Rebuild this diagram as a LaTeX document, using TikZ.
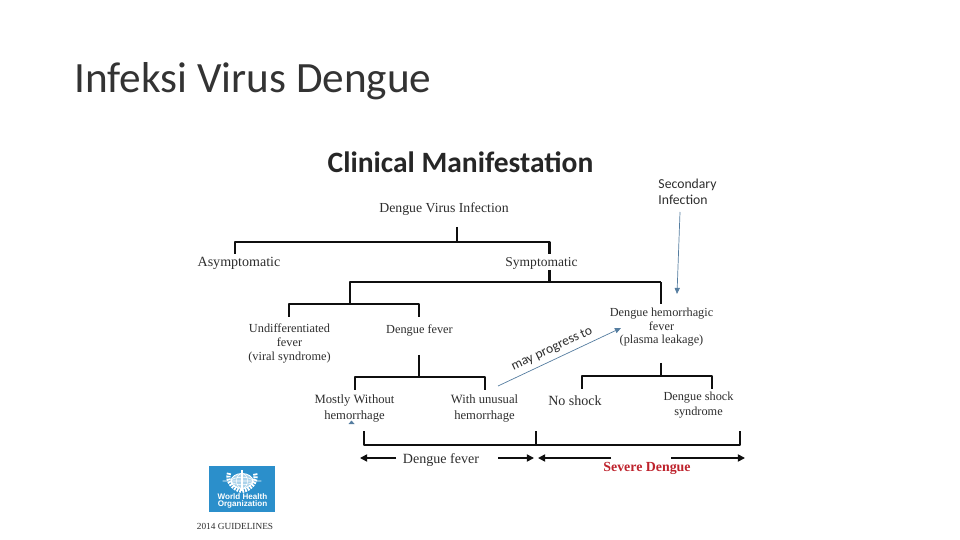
\documentclass[tikz,border=0pt]{standalone}
\usepackage{fontspec}
\setmainfont{Liberation Serif}
\newfontfamily\carlitofont{Carlito}
\newfontfamily\sansfont{Liberation Sans}
\usetikzlibrary{arrows.meta}
\definecolor{whoblue}{RGB}{43,143,203}
\definecolor{arrowblue}{RGB}{85,125,160}
\definecolor{severered}{RGB}{190,35,45}
\definecolor{treeblack}{RGB}{15,15,15}
\definecolor{labelgray}{RGB}{45,45,45}
\tikzset{
    slidebase/.style={
        x=0.02cm, y=-0.02cm,
        line join = round,
    },
    treeline/.style={draw=treeblack, line width=1.2pt},
    stemline/.style={draw=treeblack, line width=1.6pt},
    spanarrow/.style={draw=treeblack, line width=0.9pt, -{Triangle[length=4pt,width=4pt]}},
    bluearrow/.style={draw=arrowblue, line width=0.4pt, -{Triangle[length=3.5pt,width=3pt]}},
    labeltext/.style={align=center, inner sep=0pt, text=labelgray, font=\fontsize{7}{8.2}\selectfont},
    sanstext/.style={align=left, inner sep=0pt, text=labelgray, font=\carlitofont\fontsize{7.8}{9}\selectfont},
}
\newcommand{\twodrops}[3]{\draw[treeline] (#1) -- (#1 |- #3) -- (#2 |- #3) -- (#2);}
\begin{document}
\begin{tikzpicture}
        [slidebase]
        \useasboundingbox (0,0) rectangle (960,540);
        \node[inner sep=0pt, text=black!80, font=\carlitofont\fontsize{24.6}{28}\selectfont] (slidetitle) at (253,81) {Infeksi Virus Dengue};
        \node[inner sep=0pt, text=black!85, font=\carlitofont\bfseries\fontsize{16.8}{19}\selectfont] (clinical) at (460.5,162) {Clinical Manifestation};
        \node[sanstext] (secondary) at (687.5,192) {Secondary\\Infection};

        \node[labeltext, font=\fontsize{7.85}{9}\selectfont] (infection) at (444,209.5) {Dengue Virus Infection};
        \node[labeltext, font=\fontsize{8}{9}\selectfont] (asymptomatic) at (239,263) {Asymptomatic};
        \node[labeltext, font=\fontsize{7.7}{9}\selectfont] (symptomatic) at (541.5,263) {Symptomatic};
        \node[labeltext] (undiff) at (289.5,343.5) {Undifferentiated\\fever\\(viral syndrome)};
        \node[labeltext] (denguefever) at (419.5,330) {Dengue fever};
        \node[labeltext, font=\fontsize{7}{7.7}\selectfont] (dhf) at (661.5,327.5) {Dengue hemorrhagic\\fever\\(plasma leakage)};
        \node[labeltext, font=\fontsize{7.2}{8.9}\selectfont] (mostly) at (354.5,408.5) {Mostly Without\\hemorrhage};
        \node[labeltext, font=\fontsize{7.2}{8.9}\selectfont] (unusual) at (484.5,408.5) {With unusual\\hemorrhage};
        \node[labeltext, font=\fontsize{8}{9}\selectfont] (noshock) at (575,401) {No shock};
        \node[labeltext, font=\fontsize{7}{8.5}\selectfont] (shock) at (698.5,405.5) {Dengue shock\\syndrome};
        \node[labeltext, font=\fontsize{8}{9}\selectfont] (dfspan) at (441,460) {Dengue fever};
        \node[labeltext, text=severered, font=\bfseries\fontsize{7.9}{9}\selectfont] (severe) at (647,468) {Severe Dengue};
        \node[labeltext, font=\fontsize{5.3}{7}\selectfont] (guidelines) at (235,526) {2014 GUIDELINES};
        \node[inner sep=0pt, text=labelgray, rotate=25, font=\carlitofont\fontsize{7.7}{9}\selectfont] (progress) at (552,349) {may progress to};

        % upper tree
        \coordinate (rootstem) at (457,227);
        \coordinate (rootjoin) at (457,242);
        \coordinate (asymdrop) at (235,254);
        \coordinate (symdrop) at (549.5,254);
        \draw[stemline] (rootstem) -- (rootjoin);
        \twodrops{asymdrop}{symdrop}{rootjoin}
        \coordinate (symstem) at (549.5,270);
        \coordinate (symjoin) at (549.5,282);
        \coordinate (leftstem) at (350,304);
        \coordinate (dhfstem) at (661,304);
        \draw[treeline] (symstem) -- (symjoin);
        \draw[treeline] (leftstem) -- (leftstem |- symjoin) -- (dhfstem |- symjoin);
        \draw[stemline] (leftstem) -- (leftstem |- symjoin);
        \draw[stemline] (dhfstem) -- (dhfstem |- symjoin);
        \coordinate (undiffdrop) at (289,317);
        \coordinate (dfdrop) at (419,317);
        \twodrops{undiffdrop}{dfdrop}{leftstem}

        % lower tree
        \coordinate (dfstem) at (419,355);
        \coordinate (dfjoin) at (419,377);
        \coordinate (mostlydrop) at (355,390);
        \coordinate (unusualdrop) at (485,390);
        \draw[stemline] (dfstem) -- (dfjoin);
        \twodrops{mostlydrop}{unusualdrop}{dfjoin}
        \coordinate (dhftail) at (661,363);
        \coordinate (dhfjoin) at (661,376);
        \coordinate (noshockdrop) at (582,389);
        \coordinate (shockdrop) at (712,389);
        \draw[stemline] (dhftail) -- (dhfjoin);
        \twodrops{noshockdrop}{shockdrop}{dhfjoin}

        % bottom bracket
        \coordinate (bracketleft) at (364,431);
        \coordinate (bracketmid) at (536,431);
        \coordinate (bracketright) at (740,431);
        \coordinate (bracketbase) at (536,445);
        \draw[stemline] (bracketleft) -- (bracketleft |- bracketbase) -- (bracketright |- bracketbase) -- (bracketright);
        \draw[treeline] (bracketmid) -- (bracketbase);

        % spans under the bracket
        \coordinate (dfleft) at (360,458);
        \coordinate (dfright) at (534,458);
        \coordinate (sevleft) at (538,458);
        \coordinate (sevright) at (745,458);
        \coordinate (dftailleft) at (396,458);
        \coordinate (dftailright) at (498,458);
        \coordinate (sevtailleft) at (611,458);
        \coordinate (sevtailright) at (671,458);
        \draw[spanarrow] (dftailleft) -- (dfleft);
        \draw[spanarrow] (dftailright) -- (dfright);
        \draw[spanarrow] (sevtailleft) -- (sevleft);
        \draw[spanarrow] (sevtailright) -- (sevright);

        % blue arrows
        \coordinate (secondarytail) at (680,212);
        \coordinate (dhfhead) at (677,294);
        \coordinate (progresstail) at (498,386);
        \coordinate (progresshead) at (621,328);
        \draw[bluearrow] (secondarytail) -- (dhfhead);
        \draw[bluearrow] (progresstail) -- (progresshead);
        \fill[arrowblue] (348.5,424) -- (351.5,420.5) -- (354.5,424) -- cycle;

        % logo
        \fill[whoblue] (209,466) rectangle (275,512);
        \node[inner sep=0pt, text=white, align=center, font=\sansfont\bfseries\fontsize{4.6}{4.4}\selectfont] (whotext) at (242.5,501) {World Health\\Organization};
        \coordinate (emblem) at (242,481);
        \draw[white, line width=0.5pt, fill=white!60!whoblue] (emblem) ellipse (11 and 7.5);
        \draw[white, line width=0.3pt] (emblem) ellipse (5.5 and 7.5) (emblem) ellipse (11 and 3.7) ([xshift=-11]emblem) -- ([xshift=11]emblem);
        \draw[white, line width=2.4pt, dash pattern=on 1pt off 0.6pt] (229,473) to[out=250,in=170] (242,491) to[out=10,in=290] (255,473);
        \draw[white, line width=0.7pt] (242,470) -- (242,491);
    \end{tikzpicture}
\end{document}
